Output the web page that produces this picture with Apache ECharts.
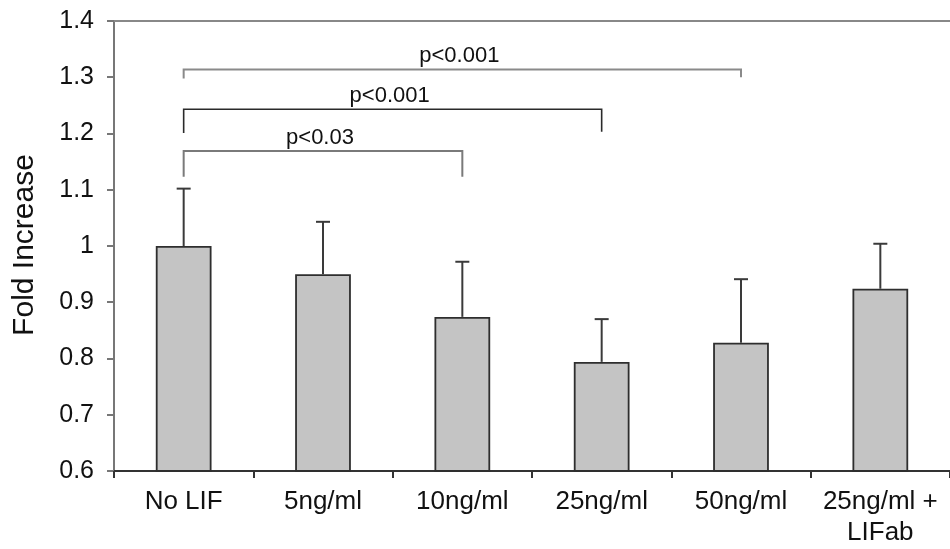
<!DOCTYPE html>
<html>
<head>
<meta charset="utf-8">
<script src="https://cdn.jsdelivr.net/npm/echarts@6/dist/echarts.min.js"></script>
<style>
html,body{margin:0;padding:0;background:#fff;}
#chart{width:950px;height:549px;}
</style>
</head>
<body>
<div id="chart"></div>
<script>
var categories = ['No LIF', '5ng/ml', '10ng/ml', '25ng/ml', '50ng/ml', '25ng/ml +\nLIFab'];
var means = [1.0, 0.95, 0.874, 0.794, 0.828, 0.924];
var errorTops = [1.102, 1.043, 0.972, 0.870, 0.941, 1.004];
var yTicks = [0.6, 0.7, 0.8, 0.9, 1, 1.1, 1.2, 1.3, 1.4];
// brackets: [from category, to category, bar level, left leg end, right leg end, label]
var bracketFrom = [0, 0, 0];
var bracketTo = [2, 2.9, 4];
var bracketLevel = [1.169, 1.243, 1.314];
var bracketLegLeft = [1.123, 1.201, 1.298];
var bracketLegRight = [1.123, 1.203, 1.300];
var bracketLabels = ['p<0.03', 'p<0.001', 'p<0.001'];
var bracketColors = ['#7a7a7a', '#2a2a2a', '#8a8a8a'];

var FONT = '"Liberation Sans", Arial, sans-serif';
var TXT = '#111111';
var chart = echarts.init(document.getElementById('chart'), null, {renderer: 'canvas'});

var errData = categories.map(function (c, i) { return [i, means[i], errorTops[i]]; });
var brData = bracketLabels.map(function (l, i) {
  return [bracketFrom[i], bracketTo[i], bracketLevel[i], bracketLegLeft[i], bracketLegRight[i], i];
});

chart.setOption({
  animation: false,
  backgroundColor: '#ffffff',
  grid: {left: 114, top: 21, width: 840, bottom: 78, containLabel: false},
  xAxis: [{
    type: 'category',
    data: categories,
    position: 'bottom',
    axisLine: {lineStyle: {color: '#333', width: 2}},
    axisTick: {show: true, length: 7, lineStyle: {color: '#333', width: 2}},
    axisLabel: {color: TXT, fontFamily: FONT, fontSize: 26, margin: 15, lineHeight: 31, interval: 0}
  }, {
    type: 'category',
    data: categories,
    position: 'top',
    axisLine: {show: true, lineStyle: {color: '#888', width: 2}},
    axisTick: {show: false},
    axisLabel: {show: false}
  }],
  yAxis: {
    type: 'value',
    min: 0.6,
    max: 1.4,
    interval: 0.1,
    axisLine: {show: true, lineStyle: {color: '#777', width: 2}},
    axisTick: {show: true, length: 7, lineStyle: {color: '#777', width: 2}},
    splitLine: {show: false},
    axisLabel: {
      color: TXT, fontFamily: FONT, fontSize: 25, margin: 20,
      formatter: function (v) { return String(Math.round(v * 10) / 10); }
    }
  },
  graphic: [{
    type: 'text',
    x: 25, y: 245,
    rotation: Math.PI / 2,
    style: {
      text: 'Fold Increase',
      fill: TXT,
      font: '30px ' + FONT,
      align: 'center',
      verticalAlign: 'middle'
    }
  }],
  series: [{
    type: 'bar',
    data: means,
    barWidth: '40%',
    itemStyle: {color: '#c4c4c4', borderColor: '#2e2e2e', borderWidth: 1.8},
    z: 2
  }, {
    type: 'custom',
    data: errData,
    z: 3,
    renderItem: function (params, api) {
      var x = api.value(0);
      var p0 = api.coord([x, api.value(1)]);
      var p1 = api.coord([x, api.value(2)]);
      var cap = 7;
      return {
        type: 'group',
        children: [{
          type: 'line',
          shape: {x1: p0[0], y1: p0[1], x2: p1[0], y2: p1[1]},
          style: {stroke: '#3a3a3a', lineWidth: 2}
        }, {
          type: 'line',
          shape: {x1: p1[0] - cap, y1: p1[1], x2: p1[0] + cap, y2: p1[1]},
          style: {stroke: '#3a3a3a', lineWidth: 2}
        }]
      };
    }
  }, {
    type: 'custom',
    data: brData,
    z: 4,
    renderItem: function (params, api) {
      var a = api.value(0), b = api.value(1), lvl = api.value(2);
      var idx = api.value(5);
      var pl = api.coord([a, lvl]);
      var pr = api.coord([b, lvl]);
      var ll = api.coord([a, api.value(3)]);
      var lr = api.coord([b, api.value(4)]);
      var col = bracketColors[idx];
      return {
        type: 'group',
        children: [{
          type: 'polyline',
          shape: {points: [[ll[0], ll[1]], [pl[0], pl[1]], [pr[0], pr[1]], [lr[0], lr[1]]]},
          style: {stroke: col, lineWidth: idx === 1 ? 1.6 : 2, fill: null}
        }, {
          type: 'text',
          x: (pl[0] + pr[0]) / 2 - 3,
          y: pl[1] - 2,
          style: {
            text: bracketLabels[idx],
            fill: TXT,
            font: '22px ' + FONT,
            align: 'center',
            verticalAlign: 'bottom'
          }
        }]
      };
    }
  }]
});
</script>
</body>
</html>
